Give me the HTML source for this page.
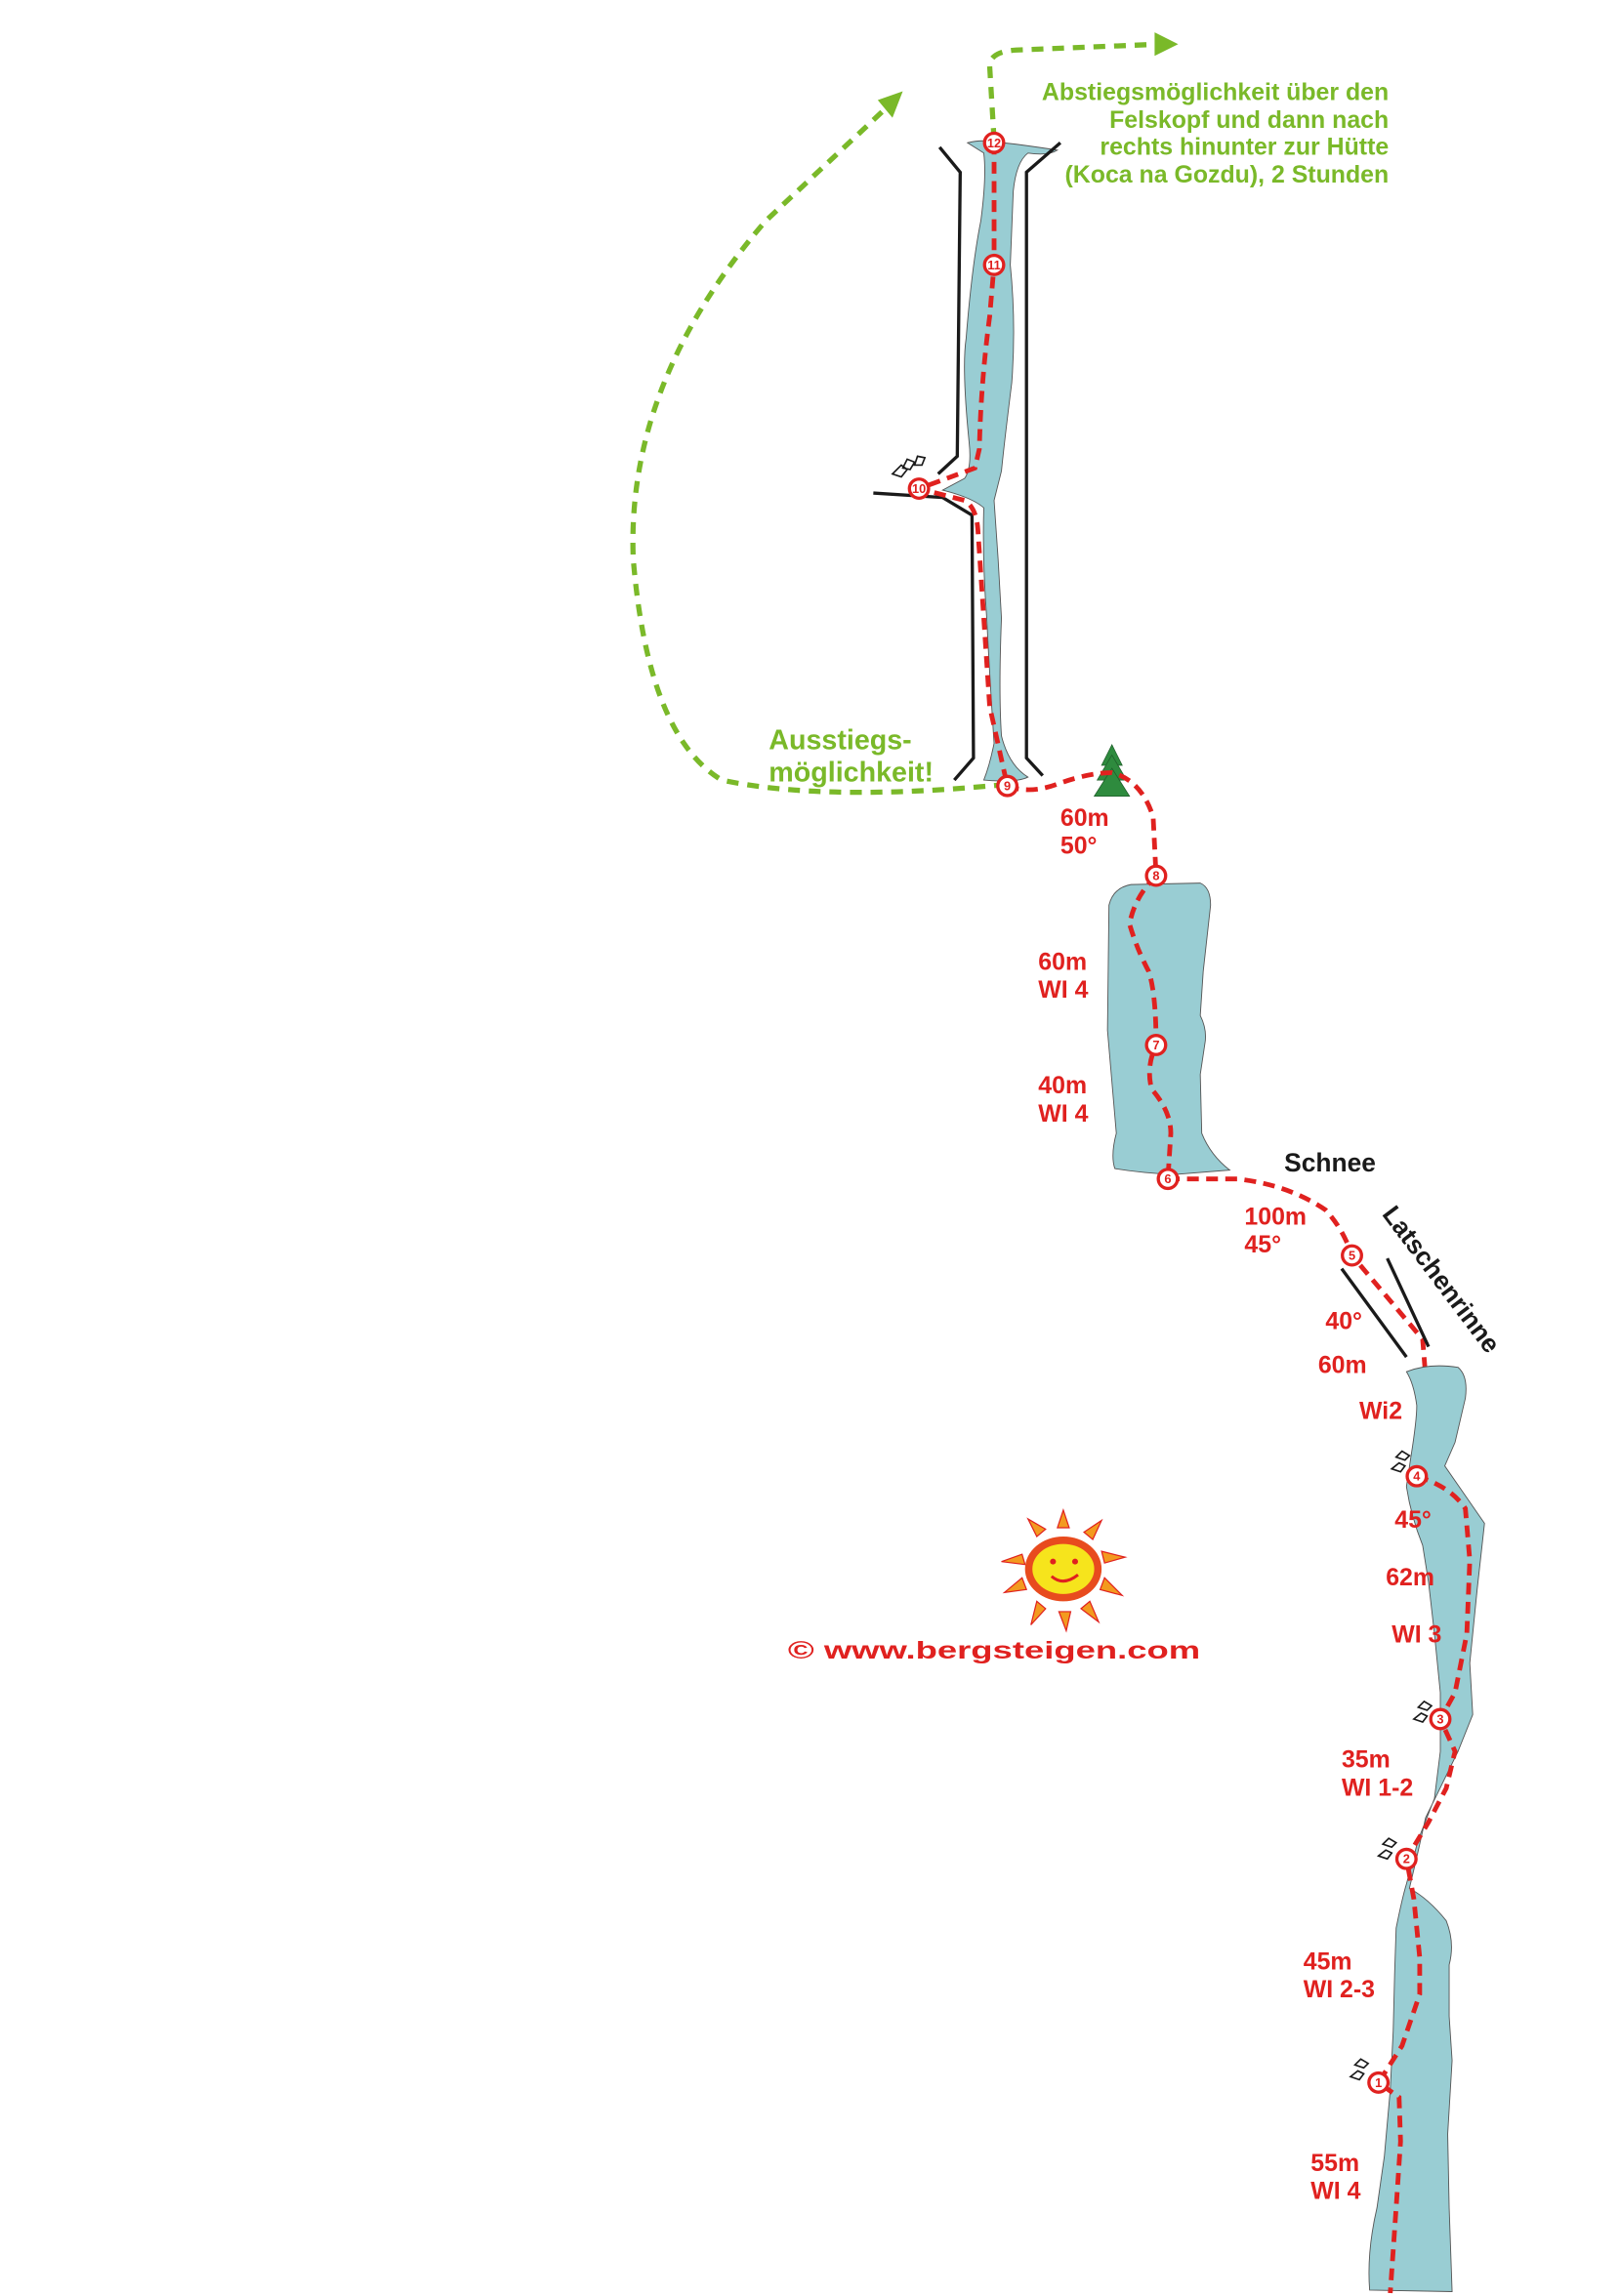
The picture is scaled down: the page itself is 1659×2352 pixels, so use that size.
<!DOCTYPE html>
<html><head><meta charset="utf-8"><style>
html,body{margin:0;padding:0;background:#fff}
svg{display:block}
.r{fill:#e0211f;font-family:"Liberation Sans",sans-serif;font-weight:bold;font-size:16.5px}
.g{fill:#7ab929;font-family:"Liberation Sans",sans-serif;font-weight:bold}
.k{fill:#1a1a1a;font-family:"Liberation Sans",sans-serif;font-weight:bold}
.ice{fill:#99cdd3;stroke:#555;stroke-width:0.6}
.rp{fill:none;stroke:#e0211f;stroke-width:3.2;stroke-dasharray:8 5}
.gp{fill:none;stroke:#7ab929;stroke-width:3.5;stroke-dasharray:8 6}
.bl{fill:none;stroke:#1a1a1a;stroke-width:2.2}
.an circle{fill:#fff;stroke:#e0211f;stroke-width:2.2}
.an text{fill:#e0211f;font-family:"Liberation Sans",sans-serif;font-weight:bold;font-size:8.5px;text-anchor:middle}
</style></head><body>
<svg width="1659" height="2352" viewBox="0 0 1100 1560" preserveAspectRatio="none" xmlns="http://www.w3.org/2000/svg">
<path class="gp" d="M675,95 L672,45 Q672,35 690,34 L788,30"/>
<polygon points="784,22 800,30 784,38" fill="#7ab929"/>
<path class="gp" d="M683,533 Q560,545 490,530 Q440,500 430,380 Q425,260 520,150 L600,75"/>
<polygon points="596,68 613,62 606,80" fill="#7ab929"/>
<text class="g" font-size="16.5" text-anchor="end"><tspan x="943" y="68">Abstiegsmöglichkeit über den</tspan><tspan x="943" y="87">Felskopf und dann nach</tspan><tspan x="943" y="105">rechts hinunter zur Hütte</tspan><tspan x="943" y="124">(Koca na Gozdu), 2 Stunden</tspan></text>
<text class="g" font-size="19"><tspan x="522" y="509">Ausstiegs-</tspan><tspan x="522" y="531">möglichkeit!</tspan></text>

<path class="ice" d="M657,97 Q665,95 672,96 L690,98 Q705,100 718,102 Q712,106 698,104 Q690,110 688,130 L686,180 Q690,220 687,260 Q682,300 680,320 L675,340 Q678,380 680,420 Q678,470 680,500 Q685,520 698,528 Q690,532 668,530 Q672,520 675,505 Q672,460 670,420 Q667,380 668,345 Q660,338 640,333 L655,325 Q660,318 658,300 Q653,250 656,230 Q660,180 666,150 Q670,120 668,104 Z"/>
<path class="bl" d="M638,100 L652,117 L650,310 L637,322"/>
<path class="bl" d="M593,335 L640,338 L660,350 L661,515 L648,530"/>
<path class="bl" d="M720,97 L697,117 L697,515 L708,527"/>
<path class="rp" d="M675,97 L675,180 L672,215 Q666,260 665,305 L662,318 L624,332 L655,340 Q663,345 664,360 L668,420 L672,480 L684,534"/>

<g fill="#2e8b3e" stroke="#1f5e2a" stroke-width="0.5"><polygon points="755,506 748,520 762,520"/><polygon points="755,513 745,530 765,530"/><polygon points="755,522 743,541 767,541"/></g>
<path class="rp" d="M684,534 Q700,540 720,532 Q740,525 755,525 Q775,530 783,555 L785,595"/>
<text class="r"><tspan x="720" y="561">60m</tspan><tspan x="720" y="580">50°</tspan></text>

<path class="ice" d="M768,601 L815,600 Q822,603 822,615 L817,660 L815,690 Q820,700 818,710 L815,730 L816,770 Q822,785 835,795 L797,798 Q775,797 757,794 Q754,785 758,770 L752,700 L753,615 Q756,603 768,601 Z"/>
<path class="rp" d="M785,595 Q770,610 767,628 Q772,645 780,660 Q785,675 785,710 Q778,725 782,740 Q795,755 795,770 L793,801"/>
<text class="r"><tspan x="705" y="659">60m</tspan><tspan x="705" y="678">WI 4</tspan><tspan x="705" y="743">40m</tspan><tspan x="705" y="762">WI 4</tspan></text>

<text class="k" font-size="17.5" x="872" y="796">Schnee</text>
<path class="rp" d="M793,801 L840,801 Q875,805 900,822 Q912,835 918,853 L945,885 L966,910 L968,935 L964,980 L962,1003"/>
<text class="r"><tspan x="845" y="832">100m</tspan><tspan x="845" y="851">45°</tspan></text>
<text class="k" font-size="17.5" transform="translate(938,825) rotate(53)">Latschenrinne</text>
<path class="bl" d="M911,862 L955,922"/><path class="bl" d="M942,855 L970,915"/>
<text class="r"><tspan x="900" y="903">40°</tspan><tspan x="895" y="933">60m</tspan><tspan x="923" y="964">Wi2</tspan></text>

<path class="ice" d="M955,932 Q970,926 990,929 Q997,935 995,950 L988,980 L981,996 L1008,1035 L1003,1080 L998,1130 L1000,1165 L990,1190 L968,1235 L962,1262 L957,1283 Q970,1290 982,1305 Q988,1320 984,1335 L984,1370 L986,1400 L983,1450 L984,1500 L986,1557 L930,1556 Q928,1530 935,1500 L940,1465 L944,1420 L946,1380 L947,1340 L948,1310 Q952,1290 955,1280 L963,1250 L974,1222 L978,1190 L978,1150 L974,1110 L970,1075 L966,1050 Q958,1030 955,1010 L958,990 Q962,965 962,955 Q960,940 955,932 Z"/>
<path class="rp" d="M962,1003 Q985,1010 995,1025 L998,1060 L996,1110 L988,1150 L978,1168 L988,1190 L982,1215 L970,1238 L955,1263 L960,1290 L964,1330 L964,1355 L952,1390 L936,1415 L950,1425 L951,1455 L948,1500 L944,1558"/>
<text class="r"><tspan x="947" y="1038">45°</tspan><tspan x="941" y="1077">62m</tspan><tspan x="945" y="1116">WI 3</tspan><tspan x="911" y="1201">35m</tspan><tspan x="911" y="1220">WI 1-2</tspan><tspan x="885" y="1338">45m</tspan><tspan x="885" y="1357">WI 2-3</tspan><tspan x="890" y="1475">55m</tspan><tspan x="890" y="1494">WI 4</tspan></text>

<g fill="none" stroke="#1a1a1a" stroke-width="1.1">
<path d="M606,322 l6,-6 l4,3 l-4,5 z M613,318 l3,-6 l5,2 l-3,5 z M621,316 l2,-6 l5,1 l-2,5 z"/>
<path d="M945,998 l5,-4 l4,2 l-3,4 z M948,990 l4,-4 l5,3 l-3,3 z"/>
<path d="M960,1168 l5,-4 l4,2 l-3,4 z M963,1160 l4,-4 l5,3 l-3,3 z"/>
<path d="M936,1261 l5,-4 l4,2 l-3,4 z M939,1253 l4,-4 l5,3 l-3,3 z"/>
<path d="M917,1411 l5,-4 l4,2 l-3,4 z M920,1403 l4,-4 l5,3 l-3,3 z"/>
</g>

<g class="an">
<circle cx="675" cy="97" r="6.5"/><text x="675" y="100">12</text>
<circle cx="675" cy="180" r="6.5"/><text x="675" y="183">11</text>
<circle cx="624" cy="332" r="6.5"/><text x="624" y="335">10</text>
<circle cx="684" cy="534" r="6.5"/><text x="684" y="537">9</text>
<circle cx="785" cy="595" r="6.5"/><text x="785" y="598">8</text>
<circle cx="785" cy="710" r="6.5"/><text x="785" y="713">7</text>
<circle cx="793" cy="801" r="6.5"/><text x="793" y="804">6</text>
<circle cx="918" cy="853" r="6.5"/><text x="918" y="856">5</text>
<circle cx="962" cy="1003" r="6.5"/><text x="962" y="1006">4</text>
<circle cx="978" cy="1168" r="6.5"/><text x="978" y="1171">3</text>
<circle cx="955" cy="1263" r="6.5"/><text x="955" y="1266">2</text>
<circle cx="936" cy="1415" r="6.5"/><text x="936" y="1418">1</text>
</g>

<g transform="translate(722,1066)">
<g fill="#f39a1f" stroke="#e0211f" stroke-width="0.8">
<polygon points="-4,-28 4,-28 0,-40"/><polygon points="14,-25 20,-20 26,-33"/><polygon points="26,-12 28,-4 42,-8"/><polygon points="28,6 25,14 40,18"/><polygon points="18,22 12,27 24,36"/><polygon points="-3,29 5,29 2,42"/><polygon points="-18,22 -12,27 -22,38"/><polygon points="-28,6 -25,14 -40,16"/><polygon points="-28,-10 -26,-3 -42,-5"/><polygon points="-18,-22 -12,-27 -24,-34"/>
</g>
<ellipse cx="0" cy="0" rx="26" ry="22" fill="#e84b1e"/>
<ellipse cx="0" cy="0" rx="21" ry="17" fill="#f6e41c"/>
<circle cx="-7" cy="-5" r="2" fill="#e0211f"/><circle cx="8" cy="-5" r="2" fill="#e0211f"/>
<path d="M-8,5 Q0,12 10,4" fill="none" stroke="#e0211f" stroke-width="2"/>
</g>
<text class="r" font-size="28" x="535" y="1127" textLength="280" lengthAdjust="spacingAndGlyphs">©  www.bergsteigen.com</text>
</svg>
</body></html>
